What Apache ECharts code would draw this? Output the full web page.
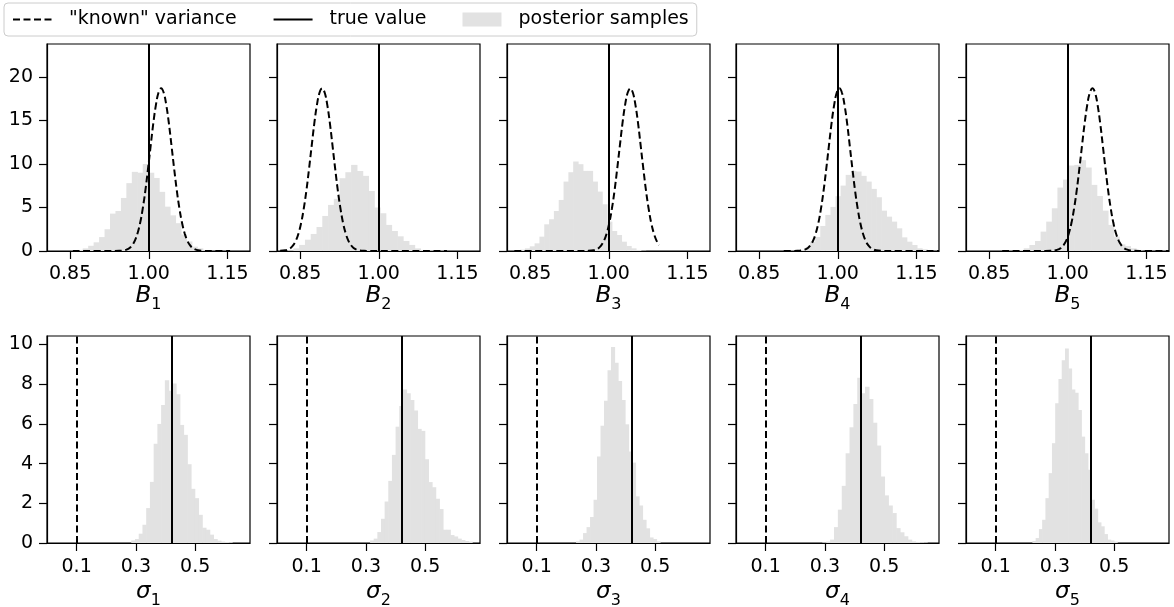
<!DOCTYPE html>
<html>
<head>
<meta charset="utf-8">
<script src="https://cdn.jsdelivr.net/npm/echarts@6/dist/echarts.min.js"></script>
<style>
  html, body { margin: 0; padding: 0; background: #fff; }
  #chart { width: 1174px; height: 607px; }
</style>
</head>
<body>
<div id="chart"></div>
<script>
// ---------------- data ----------------
const KNOWN = '"known" variance';
const TRUE = 'true value';
const POST = 'posterior samples';

const panelIndex = ['1', '2', '3', '4', '5'];

// B_k histograms (density), bin start and bin width per panel
const bHistStart = [0.8533, 0.8153, 0.831, 0.8987, 0.884];
const bHistWidth = [0.0104, 0.0110, 0.0092, 0.0097, 0.0107];
const bHist1 = [0.05, 0.12, 0.3, 0.6, 1.0, 1.6, 2.5, 4.3, 4.6, 6.1, 7.8, 9.1, 9.0, 10.0, 9.0, 8.4, 6.8, 5.1, 4.1, 3.2, 1.9, 1.1, 0.5, 0.3, 0.1];
const bHist2 = [0.03, 0.08, 0.3, 0.7, 1.3, 1.96, 2.76, 4.03, 5.3, 6.0, 8.37, 9.06, 9.9, 9.2, 8.64, 6.9, 5.0, 4.34, 3.0, 2.3, 1.69, 1.15, 0.7, 0.3, 0.12, 0.06, 0.04, 0.03];
const bHist3 = [0.15, 0.3, 0.54, 0.88, 1.65, 3.07, 3.65, 4.6, 5.87, 7.98, 9.06, 10.29, 9.98, 9.21, 9.21, 7.98, 6.83, 5.37, 3.38, 2.3, 1.84, 1.07, 0.58, 0.31, 0.12, 0.04];
const bHist4 = [0.02, 0.03, 0.05, 0.12, 0.38, 1.07, 1.61, 2.88, 4.15, 5.07, 6.3, 7.52, 8.75, 9.21, 9.14, 8.64, 7.98, 7.14, 6.18, 4.64, 3.95, 3.38, 2.61, 1.57, 1.07, 0.69, 0.31, 0.19, 0.08];
const bHist5 = [0.02, 0.04, 0.1, 0.31, 0.69, 1.15, 2.23, 3.38, 4.91, 7.29, 8.21, 9.83, 9.9, 10.44, 9.6, 7.6, 6.33, 4.64, 3.0, 1.65, 0.77, 0.58, 0.31, 0.12];
const bHists = [bHist1, bHist2, bHist3, bHist4, bHist5];

// sigma_k histograms (density)
const sHistStart = [0.2843, 0.314, 0.233, 0.2913, 0.224];
const sHistWidth = [0.0126, 0.0123, 0.0118, 0.0131, 0.0110];
const sHist1 = [0.13, 0.2, 0.47, 0.92, 1.76, 3.08, 5.0, 6.0, 6.95, 8.2, 7.67, 8.04, 7.5, 5.95, 5.45, 3.97, 2.73, 2.26, 1.42, 0.77, 0.67, 0.42, 0.2, 0.12, 0.07, 0.05, 0.04];
const sHist2 = [0.13, 0.22, 0.55, 1.22, 2.09, 3.13, 4.44, 5.86, 6.9, 7.74, 7.54, 7.2, 6.67, 5.75, 5.65, 4.22, 3.07, 2.81, 2.23, 1.71, 0.67, 0.67, 0.4, 0.33, 0.22, 0.15, 0.1, 0.07];
const sHist3 = [0.08, 0.17, 0.5, 0.8, 1.31, 2.18, 4.36, 5.91, 7.17, 8.71, 9.88, 9.08, 8.16, 7.2, 5.98, 4.61, 4.05, 2.35, 1.89, 1.17, 0.74, 0.28, 0.2, 0.08];
const sHist4 = [0.03, 0.07, 0.17, 0.8, 1.68, 2.88, 4.52, 5.83, 7.0, 8.33, 7.54, 7.87, 7.25, 6.06, 4.91, 3.35, 2.4, 1.89, 1.51, 0.75, 0.54, 0.34, 0.17, 0.08, 0.05, 0.04, 0.03];
const sHist5 = [0.1, 0.25, 0.7, 1.17, 2.26, 3.52, 5.03, 7.04, 8.26, 9.21, 9.8, 8.79, 7.74, 7.57, 6.7, 5.36, 4.52, 3.69, 2.18, 1.73, 1.04, 0.84, 0.45, 0.17, 0.13, 0.07];
const sHists = [sHist1, sHist2, sHist3, sHist4, sHist5];

// "known" variance curve: shape (offset from centre, density)
const knownOffset  = [-0.09, -0.08, -0.07, -0.065, -0.06, -0.055, -0.05, -0.045, -0.04, -0.035, -0.03, -0.025, -0.02, -0.015, -0.01, -0.005, 0,
                      0.005, 0.01, 0.015, 0.02, 0.025, 0.03, 0.035, 0.04, 0.045, 0.05, 0.055, 0.06, 0.065, 0.07, 0.08, 0.09];
const knownDensity = [0, 0.015, 0.08, 0.18, 0.35, 0.67, 1.19, 2.02, 3.21, 4.87, 6.93, 9.41, 12.03, 14.61, 16.75, 18.19, 18.7,
                      18.19, 16.75, 14.61, 12.03, 9.41, 6.93, 4.87, 3.21, 2.02, 1.19, 0.67, 0.35, 0.18, 0.08, 0.015, 0];
const knownCentreB = [1.0235, 0.892, 1.041, 1.003, 1.047];
const knownSpanB = [[0.855, 1.155], [0.809, 1.13], [0.82, 1.096], [0.897, 1.193], [0.875, 1.193]];
const knownSigma = [0.1, 0.1, 0.1, 0.1, 0.1];

const trueB = [1.0, 1.0, 1.0, 1.0, 1.0];
const trueSigma = [0.42, 0.42, 0.42, 0.42, 0.42];

// axes
const bTicks = [0.85, 1.0, 1.15];
const sTicks = [0.1, 0.3, 0.5];
const bYTicks = [0, 5, 10, 15, 20];
const sYTicks = [0, 2, 4, 6, 8, 10];
const bRange = [0.806, 1.193];
const sRange = [0.0, 0.685];
const bYMax = 23.8;
const sYMax = 10.43;

// ---------------- chart ----------------
const FONT = "'DejaVu Sans', sans-serif";
const colLeft = [47, 277, 507, 736, 966];
const colWidth = 203;
const rowTop = [44, 336];
const rowHeight = 207;
const rowNameGap = [32, 38];
const rowLabelMargin = [14, 15];

function bins(start, width, heights) {
  return heights.map((h, i) => [start + i * width, start + (i + 1) * width, h]);
}

function curve(c, span) {
  const pts = [];
  if (span[0] < c + knownOffset[0]) pts.push([span[0], 0]);
  knownOffset.forEach((o, i) => {
    const x = c + o;
    if (x >= span[0] && x <= span[1]) pts.push([x, knownDensity[i]]);
  });
  if (span[1] > c + knownOffset[knownOffset.length - 1]) pts.push([span[1], 0]);
  return pts;
}

function renderBar(params, api) {
  const p0 = api.coord([api.value(0), api.value(2)]);
  const p1 = api.coord([api.value(1), 0]);
  return {
    type: 'rect',
    shape: { x: p0[0], y: p0[1], width: p1[0] - p0[0] + 0.6, height: p1[1] - p0[1] },
    style: { fill: '#e2e2e2' }
  };
}

const richName = {
  v: { fontFamily: FONT, fontStyle: 'italic', fontSize: 23, color: '#000', lineHeight: 28, verticalAlign: 'top' },
  s: { fontFamily: FONT, fontSize: 16, color: '#000', lineHeight: 22, verticalAlign: 'bottom' }
};

const grids = [], xAxes = [], yAxes = [], series = [];
const lineBlack = { color: '#000', width: 1.2 };

for (let row = 0; row < 2; row++) {
  for (let i = 0; i < 5; i++) {
    const g = row * 5 + i;
    const isB = row === 0;
    grids.push({
      left: colLeft[i], top: rowTop[row], width: colWidth, height: rowHeight,
      outerBoundsMode: 'none', containLabel: false,
      show: true, borderColor: '#000', borderWidth: 1.2, backgroundColor: 'transparent'
    });
    const xt = isB ? bTicks : sTicks;
    xAxes.push({
      type: 'value', gridIndex: g,
      min: isB ? bRange[0] : sRange[0], max: isB ? bRange[1] : sRange[1],
      axisLine: { show: true, onZero: false, lineStyle: lineBlack },
      axisTick: { show: true, inside: false, length: 8, customValues: xt, lineStyle: lineBlack },
      axisLabel: {
        show: true, customValues: xt, margin: rowLabelMargin[row],
        formatter: v => isB ? v.toFixed(2) : v.toFixed(1),
        fontFamily: FONT, fontSize: 19, color: '#000'
      },
      splitLine: { show: false },
      name: (isB ? '{v|B}' : '{v|σ}') + '{s|' + panelIndex[i] + '}',
      nameLocation: 'middle', nameGap: rowNameGap[row],
      nameTextStyle: { rich: richName }
    });
    const yt = isB ? bYTicks : sYTicks;
    yAxes.push({
      type: 'value', gridIndex: g, min: 0, max: isB ? bYMax : sYMax,
      axisLine: { show: true, onZero: false, lineStyle: lineBlack },
      axisTick: { show: true, inside: false, length: 8, customValues: yt, lineStyle: lineBlack },
      axisLabel: { show: i === 0, customValues: yt, margin: 14, fontFamily: FONT, fontSize: 19, color: '#000' },
      splitLine: { show: false }
    });

    // histogram
    series.push({
      type: 'custom', name: POST, xAxisIndex: g, yAxisIndex: g,
      renderItem: renderBar,
      data: isB ? bins(bHistStart[i], bHistWidth[i], bHists[i]) : bins(sHistStart[i], sHistWidth[i], sHists[i]),
      encode: { x: [0, 1], y: 2 },
      itemStyle: { color: '#e2e2e2' },
      clip: true, z: 1, silent: true
    });

    // known variance
    if (isB) {
      series.push({
        type: 'line', name: KNOWN, xAxisIndex: g, yAxisIndex: g,
        data: curve(knownCentreB[i], knownSpanB[i]),
        symbol: 'none', smooth: 0.4, clip: true,
        itemStyle: { color: '#000' },
        lineStyle: { color: '#000', width: 2, type: [7, 3.5] },
        z: 3, silent: true
      });
    } else {
      series.push({
        type: 'line', name: KNOWN, xAxisIndex: g, yAxisIndex: g,
        data: [], symbol: 'none',
        itemStyle: { color: '#000' },
        lineStyle: { color: '#000', width: 2, type: [7, 3.5] },
        markLine: {
          silent: true, symbol: ['none', 'none'], label: { show: false },
          lineStyle: { color: '#000', width: 2, type: [7, 3.5] },
          data: [{ xAxis: knownSigma[i] }]
        },
        z: 3
      });
    }

    // true value
    series.push({
      type: 'line', name: TRUE, xAxisIndex: g, yAxisIndex: g,
      data: [], symbol: 'none',
      itemStyle: { color: '#000' },
      lineStyle: { color: '#000', width: 2 },
      markLine: {
        silent: true, symbol: ['none', 'none'], label: { show: false },
        lineStyle: { color: '#000', width: 2, type: 'solid' },
        data: [{ xAxis: isB ? trueB[i] : trueSigma[i] }]
      },
      z: 4
    });
  }
}

const option = {
  animation: false,
  backgroundColor: '#fff',
  legend: {
    left: 4, top: 3,
    padding: [7, 8, 7, 8],
    itemWidth: 39, itemHeight: 14, itemGap: 36,
    borderColor: '#cccccc', borderWidth: 1, borderRadius: 4,
    backgroundColor: '#fff',
    textStyle: { fontFamily: FONT, fontSize: 19, color: '#000', padding: [0, 0, 0, 12] },
    data: [
      { name: KNOWN, itemStyle: { opacity: 0 } },
      { name: TRUE, itemStyle: { opacity: 0 } },
      { name: POST, icon: 'rect' }
    ]
  },
  grid: grids,
  xAxis: xAxes,
  yAxis: yAxes,
  series: series
};

const chart = echarts.init(document.getElementById('chart'), null, { renderer: 'canvas' });
chart.setOption(option);
</script>
</body>
</html>
